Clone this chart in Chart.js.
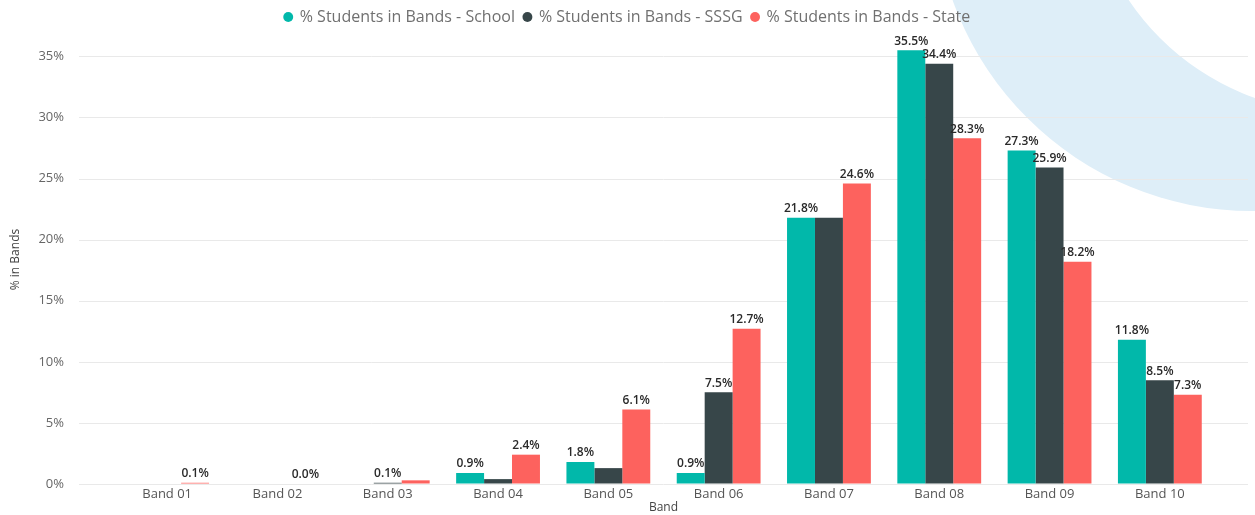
<!DOCTYPE html>
<html>
<head>
<meta charset="utf-8">
<script src="https://cdn.jsdelivr.net/npm/chart.js@4"></script>
<style>
  html, body { margin: 0; padding: 0; background: #fff; }
  #wrap { position: relative; width: 1255px; height: 515px; }
</style>
</head>
<body>
<div id="wrap"><canvas id="bandChart"></canvas></div>
<script>
const BANDS = ["Band 01", "Band 02", "Band 03", "Band 04", "Band 05", "Band 06", "Band 07", "Band 08", "Band 09", "Band 10"];
const SCHOOL = [0, 0, 0, 0.9, 1.8, 0.9, 21.8, 35.5, 27.3, 11.8];
const SSSG = [0, 0, 0.1, 0.4, 1.3, 7.5, 21.8, 34.4, 25.9, 8.5];
const STATE = [0.1, 0.04, 0.3, 2.4, 6.1, 12.7, 24.6, 28.3, 18.2, 7.3];
// which bars carry a data label (the rest were hidden by overlap in the original)
const SCHOOL_LABELS = [false, false, false, true, true, true, true, true, true, true];
const SSSG_LABELS = [false, false, true, false, false, true, false, true, true, true];
const STATE_LABELS = [true, true, false, true, true, true, true, true, true, true];
const Y_TICKS = [0, 5, 10, 15, 20, 25, 30, 35];

const COLORS = ["#01B8AA", "#374649", "#FD625E"];
const FONT = "'Open Sans', 'Noto Sans', sans-serif";

// light blue arc painted behind everything, plus gridlines that run past the category band
const backdropPlugin = {
  id: "backdrop",
  beforeDraw(chart) {
    const { ctx, width, height } = chart;
    ctx.save();
    ctx.beginPath();
    ctx.arc(1252, -107, 318, 0, Math.PI * 2);
    ctx.clip();
    ctx.beginPath();
    ctx.rect(0, 0, width, height);
    ctx.arc(1341, -143, 256, 0, Math.PI * 2);
    ctx.fillStyle = "#deeef8";
    ctx.fill("evenodd");
    ctx.restore();

    const y = chart.scales.y;
    ctx.save();
    ctx.strokeStyle = "#e9e9e9";
    ctx.lineWidth = 1;
    y.ticks.forEach((t) => {
      const py = Math.round(y.getPixelForValue(t.value)) + 0.5;
      ctx.beginPath();
      ctx.moveTo(79, py);
      ctx.lineTo(1248, py);
      ctx.stroke();
    });
    ctx.restore();
  },
};

const labelPlugin = {
  id: "barLabels",
  afterDatasetsDraw(chart) {
    const { ctx } = chart;
    ctx.save();
    ctx.font = `600 12px ${FONT}`;
    ctx.fillStyle = "#2a2a2a";
    ctx.textAlign = "center";
    ctx.textBaseline = "bottom";
    chart.data.datasets.forEach((ds, di) => {
      const meta = chart.getDatasetMeta(di);
      meta.data.forEach((bar, i) => {
        if (!ds.showLabels[i]) return;
        ctx.fillText(`${ds.data[i].toFixed(1)}%`, bar.x, bar.y - 3);
      });
    });
    ctx.restore();
  },
};

function makeDataset(label, data, showLabels, color) {
  return {
    label,
    data,
    showLabels,
    backgroundColor: color,
    borderColor: color,
    borderWidth: 0,
    categoryPercentage: 0.76,
    barPercentage: 1,
  };
}

new Chart(document.getElementById("bandChart"), {
  type: "bar",
  data: {
    labels: BANDS,
    datasets: [
      makeDataset("% Students in Bands - School", SCHOOL, SCHOOL_LABELS, COLORS[0]),
      makeDataset("% Students in Bands - SSSG", SSSG, SSSG_LABELS, COLORS[1]),
      makeDataset("% Students in Bands - State", STATE, STATE_LABELS, COLORS[2]),
    ],
  },
  plugins: [backdropPlugin, labelPlugin],
  options: {
    responsive: true,
    maintainAspectRatio: false,
    animation: false,
    layout: { padding: 0 },
    plugins: {
      legend: {
        position: "top",
        labels: {
          color: "#707070",
          font: { family: FONT, size: 16 },
          usePointStyle: true,
          pointStyle: "circle",
          boxWidth: 7,
          boxHeight: 7,
          padding: 9,
        },
      },
      tooltip: { enabled: false },
    },
    scales: {
      x: {
        grid: { display: false, drawTicks: false },
        border: { display: false },
        ticks: {
          color: "#555",
          font: { family: FONT, size: 13 },
          padding: 2,
          maxRotation: 0,
        },
        title: {
          display: true,
          text: "Band",
          color: "#444",
          font: { family: FONT, size: 12 },
          padding: { top: 0, bottom: 0 },
        },
        afterFit(s) { s.height = 31; },
      },
      y: {
        min: 0,
        max: 36.75,
        grid: {
          display: true,
          drawOnChartArea: false,
          drawTicks: true,
          tickLength: 44,
          tickColor: "rgba(0,0,0,0)",
        },
        border: { display: false },
        afterBuildTicks(s) {
          s.ticks = Y_TICKS.map((v) => ({ value: v }));
        },
        ticks: {
          color: "#666",
          font: { family: FONT, size: 13 },
          padding: 4,
          callback(value) { return `${value}%`; },
        },
        title: {
          display: true,
          text: "% in Bands",
          color: "#444",
          font: { family: "'Liberation Sans Narrow', 'Open Sans', sans-serif", size: 12 },
          padding: { top: 8, bottom: 0 },
        },
        afterFit(s) { s.width = 112; },
      },
      // empty right-hand axis, only there to keep space beside the last band
      yRight: {
        position: "right",
        min: 0,
        max: 36.75,
        grid: { display: false, drawTicks: false },
        border: { display: false },
        ticks: { display: false },
        afterFit(s) { s.width = 40; },
      },
    },
  },
});
</script>
</body>
</html>
